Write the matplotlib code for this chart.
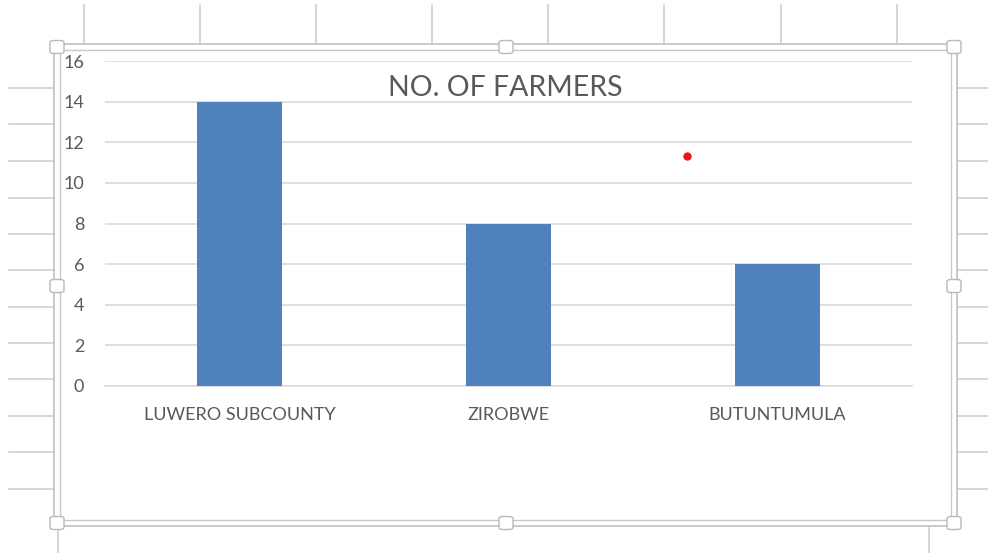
import matplotlib
matplotlib.use("Agg")
import matplotlib.pyplot as plt
from matplotlib.lines import Line2D
from matplotlib.patches import FancyBboxPatch

# chart data
categories = ["LUWERO SUBCOUNTY", "ZIROBWE", "BUTUNTUMULA"]
farmers = [14, 8, 6]
title = "NO. OF FARMERS"

W, H = 988, 553
plt.rcParams["font.family"] = ["Lato", "DejaVu Sans"]
fig = plt.figure(figsize=(W / 100, H / 100), dpi=100)
fig.patch.set_facecolor("white")


def fx(x):
    return x / W


def fy(y):
    return 1 - y / H


def hline(x0, x1, y, color="#d0d0d0", lw=1.2):
    fig.add_artist(Line2D([fx(x0), fx(x1)], [fy(y), fy(y)], color=color, lw=lw))


def vline(x, y0, y1, color="#d0d0d0", lw=1.2):
    fig.add_artist(Line2D([fx(x), fx(x)], [fy(y0), fy(y1)], color=color, lw=lw))


# spreadsheet cells behind the chart
for x in [84, 200, 316, 432, 548, 664, 781, 897]:
    vline(x, 5, 44)
for y in [88, 124.5, 161, 197.5, 234, 270, 306.5, 343, 379, 415.5, 452, 488.5]:
    hline(9, 54, y)
    hline(957, 988, y)
vline(58, 530, 553)
vline(929, 528, 553)

# chart area with selection border
ax = fig.add_axes([fx(105), fy(386), fx(912) - fx(105), (386 - 61) / H])
fig.add_artist(FancyBboxPatch((fx(57), fy(523)), fx(954) - fx(57), (523 - 47) / H,
                              boxstyle="square,pad=0", fc="white", ec="none", zorder=0))
for off, lw in [(-3, 1.4), (3, 1.0)]:
    l, r, t, b = 57 + off, 954 - off, 47 + off, 523 - off
    hline(l, r, t, "#c8c8c8", lw)
    hline(l, r, b, "#c8c8c8", lw)
    vline(l, t, b, "#c8c8c8", lw)
    vline(r, t, b, "#c8c8c8", lw)
for hx, hy in [(57, 47), (506, 47), (954, 47), (57, 286), (954, 286),
               (57, 523), (506, 523), (954, 523)]:
    fig.add_artist(FancyBboxPatch((fx(hx - 7), fy(hy + 6.5)), 14 / W, 13 / H,
                                  boxstyle="round,pad=0,rounding_size=0.004",
                                  fc="white", ec="#b8b8b8", lw=1.0, zorder=5))

x = range(len(categories))
ax.bar(x, farmers, width=0.316, color="#4f81bd", zorder=3)
ax.set_xlim(-0.5, 2.5)
ax.set_ylim(0, 16)
ax.set_yticks(range(0, 17, 2))
ax.set_xticks(list(x))
ax.set_xticklabels(categories)
ax.yaxis.grid(True, color="#d9d9d9", lw=1.2)
ax.set_axisbelow(True)
for s in ["top", "right", "left"]:
    ax.spines[s].set_visible(False)
ax.spines["bottom"].set_color("#d9d9d9")
ax.spines["bottom"].set_linewidth(1.2)
ax.tick_params(axis="both", length=0, colors="#595959", labelsize=13)
ax.tick_params(axis="y", pad=15)
ax.tick_params(axis="x", pad=15)

fig.text(fx(505), fy(88), title, ha="center", va="center", fontsize=20.5, color="#595959")

# stray red dot in the screenshot
fig.add_artist(Line2D([fx(687)], [fy(156)], marker="o", ms=5, color="#e8141b", lw=0))

fig.savefig("out.png", dpi=100)
